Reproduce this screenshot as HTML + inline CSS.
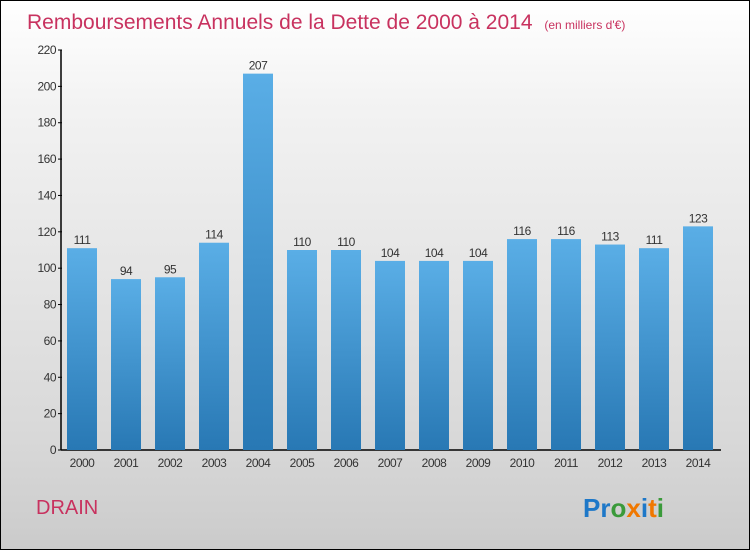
<!DOCTYPE html>
<html><head><meta charset="utf-8"><style>
body{margin:0;width:750px;height:550px;overflow:hidden;font-family:"Liberation Sans",sans-serif}
#wrap{position:absolute;left:0;top:0;width:748px;height:548px;border:1px solid #000;background:linear-gradient(#fff,#f2f2f2 20%,#d8d8d8 80%,#cbcbcb)}
</style></head><body>
<div id="wrap">
<svg id="svg" width="750" height="550" style="position:absolute;left:-1px;top:-1px">
<defs><linearGradient id="bg" x1="0" y1="0" x2="0" y2="1"><stop offset="0" stop-color="#5aaee6"/><stop offset="1" stop-color="#2878b4"/></linearGradient></defs>
<text x="27" y="29" font-size="21" fill="#c8325f">Remboursements Annuels de la Dette de 2000 à 2014 <tspan font-size="12" dx="6">(en milliers d'€)</tspan></text>
<g id="plot"></g>
<text x="36" y="514" font-size="20" fill="#c8325f">DRAIN</text>
<text x="583" y="517" font-size="26" font-weight="bold"><tspan fill="#1e78c8">Pr</tspan><tspan fill="#3a9a3a">o</tspan><tspan fill="#f07800">x</tspan><tspan fill="#1e78c8">i</tspan><tspan fill="#f07800">t</tspan><tspan fill="#3a9a3a">i</tspan></text>
</svg></div>
<script>
const years=["2000","2001","2002","2003","2004","2005","2006","2007","2008","2009","2010","2011","2012","2013","2014"];
const values=[111,94,95,114,207,110,110,104,104,104,116,116,113,111,123];
const ticks=[0,20,40,60,80,100,120,140,160,180,200,220];
const NS="http://www.w3.org/2000/svg";
const g=document.getElementById('plot');
const y=v=>450-v*400/220;
const x=i=>82+i*44;
function mk(t,a,txt){const e=document.createElementNS(NS,t);for(const k in a)e.setAttribute(k,a[k]);if(txt!==undefined)e.textContent=txt;g.appendChild(e);return e;}
let ax=mk('line',{x1:61,y1:y(220),x2:61,y2:450,stroke:'#000','stroke-width':1.5});


let xa=mk('line',{x1:61,y1:450,x2:721,y2:450,stroke:'#000','stroke-width':1.5});


ticks.forEach(t=>{
 const l=mk('line',{x1:58,y1:y(t),x2:62,y2:y(t),stroke:'#000'});
 
 
 const tx=mk('text',{x:56,y:y(t)+4,'font-size':12,fill:'#333','text-anchor':'end','letter-spacing':'-0.5'},t);
 
 
});
values.forEach((v,i)=>{
 const r=mk('rect',{x:x(i)-15,y:y(v),width:30,height:450-y(v),fill:'url(#bg)'});
 
 
 const lb=mk('text',{x:x(i),y:y(v)-4,'font-size':12,fill:'#333','text-anchor':'middle','letter-spacing':'-0.5'},v);
 
 
 const xl=mk('text',{x:x(i),y:467,'font-size':12,fill:'#333','text-anchor':'middle','letter-spacing':'-0.5'},years[i]);
 
 
});
</script>
</body></html>
